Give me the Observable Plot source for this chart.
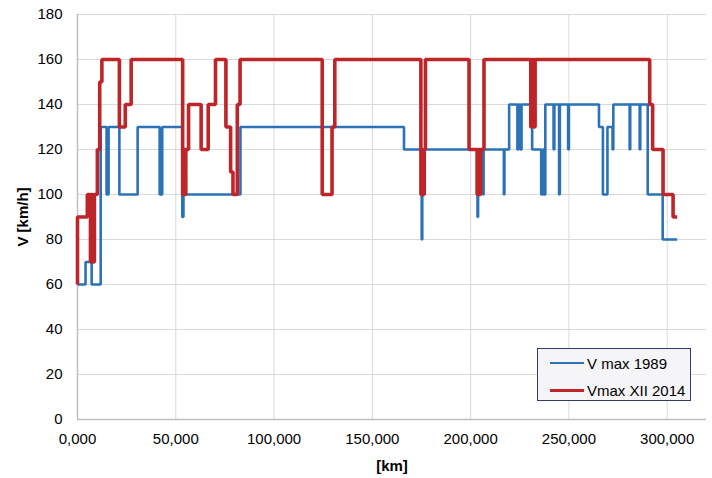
<!DOCTYPE html>
<html>
<head>
<meta charset="utf-8">
<script src="https://cdn.jsdelivr.net/npm/d3@7"></script>
<script src="https://cdn.jsdelivr.net/npm/@observablehq/plot@0.6"></script>
<style>
  html, body { margin: 0; padding: 0; background: #fff; }
  #wrap { position: relative; width: 712px; height: 478px; font-family: "Liberation Sans", Arial, sans-serif; }
  #wrap svg { font-family: "Liberation Sans", Arial, sans-serif; }
  g[aria-label="x-axis label"] text, g[aria-label="y-axis label"] text { font-weight: bold; }
  #legend { position: absolute; left: 537px; top: 348px; width: 154px; height: 53px; border: 1px solid #2f3b6e; background: #f5f5f7; box-sizing: border-box; font-size: 15px; color: #000; }
  .item { position: absolute; left: 12px; display: flex; align-items: center; height: 18px; }
  .sw { width: 34px; height: 0; margin-right: 3px; }
</style>
</head>
<body>
<div id="wrap">
  <div id="chart"></div>
  <div id="legend"></div>
</div>
<script>
// Series names
const seriesNames = ["V max 1989", "Vmax XII 2014"];
const seriesColors = ["#2b72b8", "#be2529"];
const seriesWidths = [2.6, 3.6];

// V max 1989: km where each speed section starts, and speed (km/h)
const km1989 = [0, 4.1, 7.2, 11.8, 14.8, 15.8, 21.3, 30.6, 41.8, 43.1, 53.3, 53.9, 82.9,
  166.1, 175.1, 175.4, 203.5, 203.8, 206.3, 206.6, 216.9, 217.2, 219.6,
  223.8, 224.4, 225.3, 225.9, 231.3, 235.9, 236.6, 237.2, 238.0,
  242.2, 242.6, 245.0, 245.4, 249.6, 250.0, 265.3, 267.3, 269.6, 272.2, 272.6,
  280.9, 281.2, 286.0, 286.3, 290.1, 297.7, 305.1];
const v1989 = [60, 70, 60, 130, 100, 130, 100, 130, 100, 130, 90, 100, 130,
  120, 80, 120, 90, 120, 100, 120, 100, 120, 140,
  120, 140, 120, 140, 120, 100, 120, 100, 140,
  120, 140, 100, 140, 120, 140, 130, 100, 130, 120, 140,
  120, 140, 120, 140, 100, 80, 80];

// Vmax XII 2014
const km2014 = [0, 0, 5.0, 6.6, 7.3, 7.9, 8.6, 10.1, 11.3, 12.4, 21.3, 24.3, 27.3,
  53.5, 54.1, 54.6, 55.1, 56.5, 62.9, 66.5, 70.2, 75.5, 77.9, 79.1, 81.3, 82.7,
  124.5, 129.5, 130.9, 174.7, 175.3, 175.8, 176.4, 177.0,
  199.2, 203.3, 203.9, 204.5, 205.1, 206.8, 230.6, 231.4, 232.1, 232.8,
  291.1, 292.6, 297.9, 303.0, 305.1];
const v2014 = [60, 90, 100, 70, 100, 70, 100, 120, 150, 160, 130, 140, 160,
  100, 120, 100, 120, 140, 120, 140, 160, 130, 110, 100, 140, 160,
  100, 130, 160, 100, 120, 100, 120, 160,
  120, 100, 120, 100, 120, 160, 130, 160, 130, 160,
  140, 120, 100, 90, 90];

// Axis ticks
const xTicks = [0, 50, 100, 150, 200, 250, 300];
const yTicks = [0, 20, 40, 60, 80, 100, 120, 140, 160, 180];

const rows = [
  ...km1989.map((k, i) => ({km: k, v: v1989[i], s: seriesNames[0]})),
  ...km2014.map((k, i) => ({km: k, v: v2014[i], s: seriesNames[1]}))
];

const fmtX = d => d3.format(".3f")(d).replace(".", ",");

const chart = Plot.plot({
  width: 712,
  height: 478,
  marginLeft: 77,
  marginRight: 6,
  marginTop: 14,
  marginBottom: 59,
  style: {fontSize: "15px", fontFamily: "Liberation Sans, Arial, sans-serif", color: "#000", background: "#fff"},
  x: {domain: [0, 320]},
  y: {domain: [0, 180]},
  color: {domain: seriesNames, range: seriesColors},
  marks: [
    Plot.gridX(xTicks, {stroke: "#d9d9d9", strokeOpacity: 1, strokeWidth: 1}),
    Plot.gridY(yTicks, {stroke: "#d9d9d9", strokeOpacity: 1, strokeWidth: 1}),
    Plot.ruleX([0], {stroke: "#bfbfbf", strokeWidth: 1.5}),
    Plot.ruleY([0], {stroke: "#bfbfbf", strokeWidth: 1.5}),
    Plot.axisX({ticks: xTicks, tickFormat: fmtX, tickSize: 0, tickPadding: 14, label: "[km]", labelAnchor: "center", labelArrow: false, labelOffset: 51, fill: "#000"}),
    Plot.axisY({ticks: yTicks, tickSize: 0, tickPadding: 15, label: "V [km/h]", labelAnchor: "center", labelArrow: false, labelOffset: 60, fill: "#000"}),
    Plot.line(rows.filter(d => d.s === seriesNames[0]), {x: "km", y: "v", curve: "step-after", stroke: seriesColors[0], strokeWidth: seriesWidths[0], strokeLinejoin: "miter", strokeLinecap: "butt"}),
    Plot.line(rows.filter(d => d.s === seriesNames[1]), {x: "km", y: "v", curve: "step-after", stroke: seriesColors[1], strokeWidth: seriesWidths[1], strokeLinejoin: "miter", strokeLinecap: "butt"})
  ]
});
document.getElementById("chart").appendChild(chart);

const legend = document.getElementById("legend");
seriesNames.forEach((name, i) => {
  const it = document.createElement("div");
  it.className = "item";
  it.style.top = (5 + i * 27) + "px";
  const sw = document.createElement("span");
  sw.className = "sw";
  sw.style.borderTop = seriesWidths[i] + "px solid " + seriesColors[i];
  const tx = document.createElement("span");
  tx.textContent = name;
  it.appendChild(sw);
  it.appendChild(tx);
  legend.appendChild(it);
});
</script>
</body>
</html>
